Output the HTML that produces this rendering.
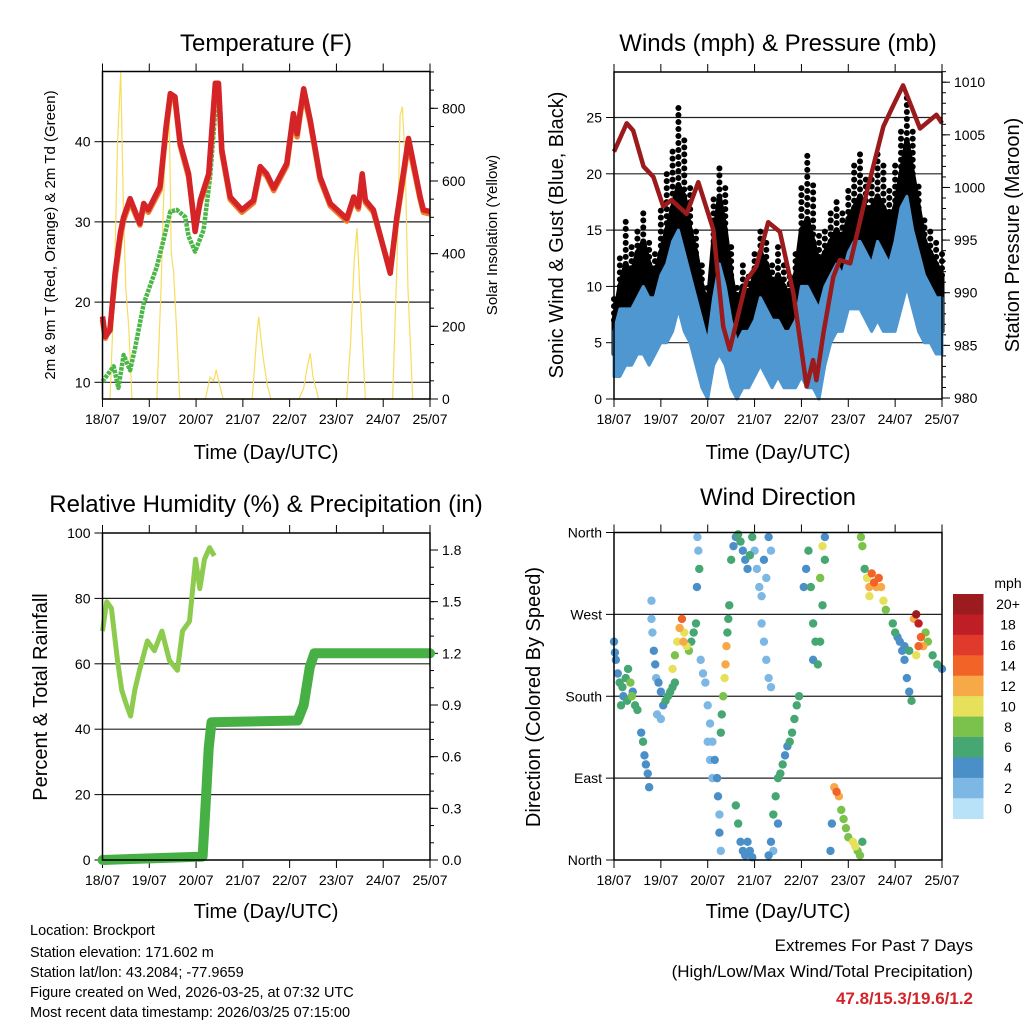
<!DOCTYPE html>
<html><head><meta charset="utf-8">
<style>
html,body{margin:0;padding:0;background:#fff;}
svg{display:block;font-family:"Liberation Sans",Arial,sans-serif;}
</style></head>
<body>
<svg id="chart" width="1024" height="1024" viewBox="0 0 1024 1024" xmlns="http://www.w3.org/2000/svg">
<rect width="1024" height="1024" fill="#fff"/>
<g id="layer"></g>
<text x="266" y="51" font-size="24" text-anchor="middle">Temperature (F)</text>
<text x="778" y="51" font-size="24" text-anchor="middle">Winds (mph) &amp; Pressure (mb)</text>
<text x="266" y="512" font-size="24" text-anchor="middle">Relative Humidity (%) &amp; Precipitation (in)</text>
<text x="778" y="505" font-size="24" text-anchor="middle">Wind Direction</text>
<text x="266" y="459" font-size="20" text-anchor="middle">Time (Day/UTC)</text>
<text x="778" y="459" font-size="20" text-anchor="middle">Time (Day/UTC)</text>
<text x="266" y="918" font-size="20" text-anchor="middle">Time (Day/UTC)</text>
<text x="778" y="918" font-size="20" text-anchor="middle">Time (Day/UTC)</text>
<text transform="translate(55,235) rotate(-90)" font-size="15" text-anchor="middle">2m &amp; 9m T (Red, Orange) &amp; 2m Td (Green)</text>
<text transform="translate(497,235) rotate(-90)" font-size="15" text-anchor="middle">Solar Insolation (Yellow)</text>
<text transform="translate(563,235) rotate(-90)" font-size="20" text-anchor="middle">Sonic Wind &amp; Gust (Blue, Black)</text>
<text transform="translate(1019,235) rotate(-90)" font-size="20" text-anchor="middle">Station Pressure (Maroon)</text>
<text transform="translate(47,697) rotate(-90)" font-size="20" text-anchor="middle">Percent &amp; Total Rainfall</text>
<text transform="translate(540,697) rotate(-90)" font-size="20" text-anchor="middle">Direction (Colored By Speed)</text>
<g font-size="14.5">
<text x="30" y="935">Location: Brockport</text>
<text x="30" y="957">Station elevation: 171.602 m</text>
<text x="30" y="977">Station lat/lon: 43.2084; -77.9659</text>
<text x="30" y="997">Figure created on Wed, 2026-03-25, at 07:32 UTC</text>
<text x="30" y="1017">Most recent data timestamp: 2026/03/25 07:15:00</text>
</g>
<g text-anchor="end">
<text x="973" y="951" font-size="17">Extremes For Past 7 Days</text>
<text x="973" y="977" font-size="17">(High/Low/Max Wind/Total Precipitation)</text>
<text x="973" y="1004" font-size="17" font-weight="bold" fill="#d0262a">47.8/15.3/19.6/1.2</text>
</g>
</svg>
<script>
// ---------- data ----------
const dayLabels = ["18/07","19/07","20/07","21/07","22/07","23/07","24/07","25/07"];
const tempTime = [0,.06,.16,.27,.38,.45,.59,.8,.88,.98,1.23,1.36,1.45,1.55,1.66,1.84,1.98,2.09,2.27,2.41,2.48,2.55,2.73,2.98,3.23,3.37,3.51,3.66,3.94,4.08,4.16,4.23,4.3,4.44,4.65,4.87,5.22,5.37,5.47,5.55,5.62,5.79,6.15,6.29,6.54,6.79,6.86,7.0];
const temp2m = [18.2,15.7,16.5,23.6,28.6,30.6,32.9,29.8,32.3,31.5,34.4,41.9,46.0,45.6,39.8,36.0,28.8,32.7,36.0,47.3,47.3,39.0,33.1,31.5,32.7,36.9,36.0,34.2,37.3,43.5,41.0,43.9,46.6,42.7,35.6,32.3,30.4,33.1,31.9,36.0,32.7,31.5,23.6,30.6,40.4,33.1,31.5,31.3];
const temp9m = [17.8,15.5,16.8,23.0,28.0,30.2,32.5,29.6,32.0,31.2,34.0,41.5,45.5,45.2,39.5,35.6,29.5,32.4,35.7,46.8,46.9,38.6,32.8,31.2,32.4,36.5,35.7,33.9,37.0,43.0,40.6,43.5,46.0,42.4,35.3,32.0,30.1,32.8,31.6,35.5,32.4,31.2,23.9,30.2,39.8,32.8,31.2,31.0];
const dewTime = [0,.24,.34,.45,.59,.7,.88,1.16,1.34,1.45,1.59,1.77,1.84,1.98,2.16,2.3,2.43];
const dewVal = [10.1,12,9.3,13.4,11.5,14.4,19.8,24.4,28.6,31.3,31.5,30.6,28.2,26.3,29.0,35.6,45.2];
const solarTime = [0,.16,.25,.32,.39,.45,.5,.56,.63,1.16,1.25,1.35,1.42,1.47,1.52,1.58,1.65,2.2,2.3,2.38,2.43,2.5,2.58,3.2,3.3,3.34,3.4,3.45,3.52,3.6,4.2,4.3,4.38,4.44,4.5,4.58,4.62,5.22,5.3,5.38,5.44,5.5,5.56,5.62,6.2,6.3,6.36,6.41,6.47,6.53,6.63,7];
const solarVal = [0,0,300,700,900,500,300,200,0,0,300,750,840,400,350,200,0,0,60,50,80,40,0,0,180,226,150,100,40,0,0,30,90,126,60,20,0,0,150,380,470,300,150,0,0,400,780,804,650,300,0,0];
const windSlots = [0,.125,.25,.375,.5,.625,.75,.875,1,1.125,1.25,1.375,1.5,1.625,1.75,1.875,2,2.125,2.25,2.375,2.5,2.625,2.75,2.875,3,3.125,3.25,3.375,3.5,3.625,3.75,3.875,4,4.125,4.25,4.375,4.5,4.625,4.75,4.875,5,5.125,5.25,5.375,5.5,5.625,5.75,5.875,6,6.125,6.25,6.375,6.5,6.625,6.75,6.875,7];
const gustLo = [4,5,6,6,7,8,6,7,8,8,10,12,10,8,7,5,2,6,8,6,5,3,4,4,5,6,5,4,5,4,3,4,6,5,4,3,6,8,9,9,10,11,12,11,10,11,10,9,10,12,14,12,10,9,8,7,6];
const gustHi = [7,10,12,11,13,14,12,11,13,15,17,19,18,15,13,10,8,14,18,15,11,8,10,9,11,13,12,10,11,10,9,11,15,16,14,12,13,14,15,14,16,17,18,17,17,18,17,16,17,20,23,20,17,14,13,12,11];
const gustMax = [9,13,16,14,15,17,14,13,17,20,22,26,23,19,15,12,10,18,21,19,14,10,12,11,13,15,14,12,14,12,11,13,19,22,19,15,15,17,18,17,19,21,22,20,20,22,21,19,21,24,27,24,19,16,15,14,13];
const windLo = [2,2,3,3,4,4,3,4,5,5,6,8,6,5,3,1,0,3,4,3,1,0,1,1,2,3,2,1,2,1,1,1,2,1,1,0,3,5,6,6,8,8,8,7,6,7,6,6,6,8,10,8,6,5,5,4,4];
const windHi = [6,8,8,8,9,10,9,9,11,12,14,15,13,11,9,7,5,9,12,10,7,5,6,6,7,9,8,7,7,6,6,7,10,10,9,8,10,11,12,11,13,14,14,13,12,14,13,12,14,17,18,15,13,11,10,9,9];
const presTime = [0,.27,.41,.63,.84,1.05,1.23,1.55,1.8,2.12,2.33,2.47,2.83,3.04,3.29,3.54,3.83,4.11,4.25,4.32,4.47,4.68,4.82,5.04,5.39,5.75,5.96,6.17,6.53,6.88,7.0];
const presVal = [1003.4,1006.1,1005.4,1002.0,1001.0,998.2,998.8,997.5,1000.5,996.0,986.8,984.6,991.2,992.5,996.7,995.8,989.9,981.1,983.6,981.7,986.2,991.5,993.1,992.8,999.5,1005.8,1007.8,1009.7,1005.6,1006.9,1006.1];
const rhTime = [0,.09,.19,.32,.41,.51,.6,.69,.79,.96,1.11,1.27,1.43,1.6,1.71,1.86,1.99,2.08,2.18,2.29,2.39];
const rhVal = [70,79,77,61,52,47.5,44,52,58,67,64,70,61,58,70,73,92,83,92,95.5,93];
const precipTime = [0,2.14,2.2,2.27,2.33,4.17,4.3,4.43,4.53,7];
const precipVal = [0,0.02,0.3,0.65,0.8,0.81,0.9,1.12,1.2,1.2];
const dirTime = [0,.02,.04,.08,.12,.18,.25,.3,.35,.4,.45,.5,.38,.2,.15,.28,.58,.62,.65,.68,.72,.75,.8,.8,.82,.85,.88,.9,.95,1,1.05,1.1,1.15,1.2,1.25,1.3,.92,1,1.25,1.3,1.35,1.4,1.45,1.5,1.55,1.6,1.65,1.7,1.75,1.48,1.78,1.8,1.82,1.77,1.85,1.9,1.95,2,2.05,2.1,2.15,2.2,2.22,2.25,2.25,2.28,2,2.05,2.1,2.28,2.3,2.33,2.36,2.38,2.4,2.42,2.44,2.46,2.5,2.55,2.6,2.65,2.7,2.75,2.8,2.85,2.9,2.95,2.6,2.65,2.7,2.75,2.8,2.85,2.9,2.95,3,3.05,3.1,3.15,3.2,3.3,3.35,3.25,3.15,3.2,3.25,3.3,3.35,3.3,3.35,3.4,3.45,3.5,3.55,3.6,3.65,3.7,3.75,3.8,3.85,3.9,3.95,3.4,3.5,4.05,4.1,4.15,4.2,4.25,4.3,4.35,4.4,4.45,4.5,4.45,4.5,4.4,4.25,4.7,4.75,4.8,4.85,4.9,4.95,5,5.1,5.15,5.2,5.25,5.3,4.65,4.62,5.27,5.3,5.35,5.4,5.45,5.5,5.55,5.6,5.65,5.7,5.75,5.8,5.45,5.95,6,6.05,6.1,6.15,6.2,6.25,6.3,6.35,6.2,6.3,6.4,6.45,6.5,6.55,6.6,6.65,6.7,6.8,6.9,7,6.5,6.45];
const dirDeg = [240,228,220,205,195,190,200,210,195,185,170,165,180,180,170,175,140,130,115,105,95,80,285,265,250,230,215,200,195,185,170,175,180,185,190,195,160,155,210,225,240,255,265,250,235,230,240,250,260,240,355,340,320,300,220,205,195,170,150,130,110,90,70,50,30,10,130,110,90,140,160,180,200,215,235,250,265,280,330,345,355,358,350,340,330,320,335,355,60,40,20,10,5,20,10,3,340,320,300,290,330,355,340,310,260,240,220,200,190,5,20,50,70,90,95,105,115,125,130,140,155,170,180,10,40,300,320,340,300,260,240,215,240,280,330,345,355,310,220,80,75,70,55,45,35,25,20,15,10,5,20,40,10,355,345,320,310,300,315,305,300,310,300,285,275,290,260,250,245,240,230,220,200,185,175,235,230,265,270,260,245,235,250,240,225,215,210,235,225];
const dirSpd = [4,4,4,5,6,6,7,6,8,5,6,6,9,5,7,6,4,6,5,4,4,4,2,2,2,4,4,3,4,4,5,6,7,7,6,6,3,2,10,9,10,12,14,11,10,8,7,6,6,12,2,3,7,4,2,2,2,2,3,2,4,4,4,3,4,3,2,2,2,7,7,8,10,12,12,7,7,6,6,5,4,6,6,5,4,4,7,6,6,6,5,4,4,5,5,4,2,3,2,3,4,4,3,2,2,3,2,2,2,4,4,6,6,6,7,6,5,4,6,7,7,7,6,3,5,4,5,6,6,6,7,6,6,6,7,10,4,8,4,13,14,12,8,8,8,9,10,10,9,8,7,4,4,8,9,7,11,13,14,15,13,15,12,10,9,10,6,6,5,4,4,4,5,4,6,5,6,13,20,18,14,12,9,8,7,6,5,15,11];
const speedColors = ["#b8e2f8","#7db8e5","#4b8fc8","#46a772","#7bc24d","#e6e05a","#f7a847","#f26328","#df3a2c","#bf1e27","#9b1b1e"];
const speedLabels = ["0","2","4","6","8","10","12","14","16","18","20+"];

// ---------- helpers ----------
const NS = "http://www.w3.org/2000/svg";
const layer = document.getElementById("layer");
function mk(tag, attrs, parent) {
  const e = document.createElementNS(NS, tag);
  for (const k in attrs) e.setAttribute(k, attrs[k]);
  (parent || layer).appendChild(e);
  return e;
}
function lin(d0, d1, r0, r1) { return v => r0 + (v - d0) * (r1 - r0) / (d1 - d0); }
function pathFrom(ts, vs, xs, ys) {
  let d = "";
  for (let i = 0; i < ts.length; i++) d += (i ? "L" : "M") + xs(ts[i]).toFixed(1) + "," + ys(vs[i]).toFixed(1);
  return d;
}
function panel(name, x0, x1, y0, y1, leftTicks, leftLabels, leftScale, rightTicks, rightLabels, rightScale, rightMinor, grid) {
  const g = mk("g", {});
  
  
  const xs = lin(0, 7, x0, x1);
  grid.forEach(v => {
    const l = mk("line", {x1: x0, x2: x1, y1: leftScale(v), y2: leftScale(v), stroke: "#222", "stroke-width": 1.2}, g);
    
    
  });
  dayLabels.forEach((lab, i) => {
    const x = xs(i);
    mk("line", {x1: x, x2: x, y1: y1, y2: y1 + 8, stroke: "#000", "stroke-width": 1}, g);
    mk("line", {x1: x, x2: x, y1: y0, y2: y0 - 8, stroke: "#000", "stroke-width": 1}, g);
    const t = mk("text", {x: x, y: y1 + 25, "font-size": 14, "text-anchor": "middle"}, g);
    
    
    t.textContent = lab;
  });
  leftTicks.forEach((v, i) => {
    const y = leftScale(v);
    mk("line", {x1: x0 - 8, x2: x0, y1: y, y2: y, stroke: "#000", "stroke-width": 1}, g);
    const t = mk("text", {x: x0 - 12, y: y + 5, "font-size": 14, "text-anchor": "end"}, g);
    
    
    t.textContent = leftLabels[i];
  });
  if (rightTicks) {
    rightMinor.forEach(v => mk("line", {x1: x1, x2: x1 + 4, y1: rightScale(v), y2: rightScale(v), stroke: "#000", "stroke-width": 1}, g));
    rightTicks.forEach((v, i) => {
      const y = rightScale(v);
      mk("line", {x1: x1, x2: x1 + 8, y1: y, y2: y, stroke: "#000", "stroke-width": 1}, g);
      const t = mk("text", {x: x1 + 12, y: y + 5, "font-size": 14}, g);
      
      
      t.textContent = rightLabels[i];
    });
  }
  return {g, xs};
}
function frame(x0, x1, y0, y1) {
  const r = mk("rect", {x: x0, y: y0, width: x1 - x0, height: y1 - y0, fill: "none", stroke: "#000", "stroke-width": 1.5});
  
  
}
function range(a, b, s) { const r = []; for (let v = a; v <= b + 1e-9; v += s) r.push(+v.toFixed(3)); return r; }

// ---------- panel 1: temperature ----------
{
  const X0 = 102.5, X1 = 430, Y0 = 71.5, Y1 = 399;
  const ys = lin(10, 40, 382.3, 141.7);
  const ysR = lin(0, 800, 399, 108.3);
  const p = panel("temperature-panel", X0, X1, Y0, Y1, [10,20,30,40], ["10","20","30","40"], ys,
    [0,200,400,600,800], ["0","200","400","600","800"], ysR, range(0, 900, 50), [10,20,30,40]);
  const solar = mk("path", {d: pathFrom(solarTime, solarVal, p.xs, ysR), fill: "none", stroke: "#f7dd5e", "stroke-width": 1.2}, p.g);
  
  
  const dew = mk("path", {d: pathFrom(dewTime, dewVal, p.xs, ys), fill: "none", stroke: "#4cb649", "stroke-width": 4.5, "stroke-dasharray": "3.5 1", "stroke-linejoin": "round"}, p.g);
  
  
  const t9 = mk("path", {d: pathFrom(tempTime, temp9m, p.xs, ys), fill: "none", stroke: "#f07c2a", "stroke-width": 5.5, "stroke-linejoin": "round"}, p.g);
  
  
  const t2 = mk("path", {d: pathFrom(tempTime, temp2m, p.xs, ys), fill: "none", stroke: "#d42428", "stroke-width": 5.5, "stroke-linejoin": "round"}, p.g);
  
  
  frame(X0, X1, Y0, Y1);
}

// ---------- panel 2: winds & pressure ----------
{
  const X0 = 614, X1 = 942, Y0 = 72, Y1 = 399;
  const ys = lin(0, 25, 399, 117.5);
  const ysR = lin(980, 1010, 398, 82.2);
  const p = panel("winds-panel", X0, X1, Y0, Y1, [0,5,10,15,20,25], ["0","5","10","15","20","25"], ys,
    [980,985,990,995,1000,1005,1010], ["980","985","990","995","1000","1005","1010"], ysR, range(980, 1011, 1), [5,10,15,20,25]);
  let d = pathFrom(windSlots, gustHi, p.xs, ys);
  for (let i = windSlots.length - 1; i >= 0; i--) d += "L" + p.xs(windSlots[i]).toFixed(1) + "," + ys(gustLo[i]).toFixed(1);
  const gb = mk("path", {d: d + "Z", fill: "#000", stroke: "#000", "stroke-width": 5, "stroke-linejoin": "round"}, p.g);
  
  
  windSlots.forEach((t, i) => {
    const x = p.xs(t);
    const y0 = ys(gustHi[i]), y1 = ys(gustMax[i]);
    for (let yy = y0; yy >= y1 - 0.1; yy -= 7) {
      const c = mk("circle", {cx: x, cy: yy, r: 3, fill: "#000"}, p.g);
      
      
    }
  });
  let d2 = pathFrom(windSlots, windHi, p.xs, ys);
  for (let i = windSlots.length - 1; i >= 0; i--) d2 += "L" + p.xs(windSlots[i]).toFixed(1) + "," + ys(windLo[i]).toFixed(1);
  const wb = mk("path", {d: d2 + "Z", fill: "#4f97d1", stroke: "#4f97d1", "stroke-width": 3, "stroke-linejoin": "round"}, p.g);
  
  
  const pl = mk("path", {d: pathFrom(presTime, presVal, p.xs, ysR), fill: "none", stroke: "#9b1a1c", "stroke-width": 4.5, "stroke-linejoin": "round"}, p.g);
  
  
  frame(X0, X1, Y0, Y1);
}

// ---------- panel 3: RH & precip ----------
{
  const X0 = 102.5, X1 = 430, Y0 = 533, Y1 = 860;
  const ys = lin(0, 100, 860, 533);
  const ysR = lin(0, 1.8, 860, 550);
  const p = panel("humidity-panel", X0, X1, Y0, Y1, [0,20,40,60,80,100], ["0","20","40","60","80","100"], ys,
    [0,0.3,0.6,0.9,1.2,1.5,1.8], ["0.0","0.3","0.6","0.9","1.2","1.5","1.8"], ysR, range(0, 1.8, 0.1), [20,40,60,80]);
  const rh = mk("path", {d: pathFrom(rhTime, rhVal, p.xs, ys), fill: "none", stroke: "#8dcb4f", "stroke-width": 5, "stroke-linejoin": "round"}, p.g);
  
  
  const pr = mk("path", {d: pathFrom(precipTime, precipVal, p.xs, ysR), fill: "none", stroke: "#46b045", "stroke-width": 10, "stroke-linejoin": "round", "stroke-linecap": "round"}, p.g);
  
  
  frame(X0, X1, Y0, Y1);
}

// ---------- panel 4: wind direction ----------
{
  const X0 = 614, X1 = 942, Y0 = 532.5, Y1 = 860;
  const ys = lin(0, 360, 860, 532.5);
  const p = panel("wind-direction-panel", X0, X1, Y0, Y1, [0,90,180,270,360], ["North","East","South","West","North"], ys, null, null, null, null, [90,180,270]);
  const order = dirTime.map((t, i) => i).sort((a, b) => dirSpd[a] - dirSpd[b]);
  order.forEach(i => {
    const bin = Math.min(10, Math.floor(dirSpd[i] / 2));
    const c = mk("circle", {cx: p.xs(dirTime[i]), cy: ys(dirDeg[i]), r: 4.2, fill: speedColors[bin]}, p.g);
    
    
  });
  frame(X0, X1, Y0, Y1);
  const cb = mk("g", {});
  
  
  const bh = (818.7 - 594) / 11;
  speedLabels.forEach((lab, i) => {
    const k = 10 - i;
    const y = 594 + i * bh;
    const r = mk("rect", {x: 953, y: y, width: 30.5, height: bh + 0.3, fill: speedColors[k]}, cb);
    
    
    const t = mk("text", {x: 1008, y: y + bh / 2 + 5, "font-size": 14, "text-anchor": "middle"}, cb);
    
    
    t.textContent = speedLabels[k];
  });
  const u = mk("text", {x: 1008, y: 588, "font-size": 14, "text-anchor": "middle"}, cb);
  
  
  u.textContent = "mph";
}
</script>
</body></html>
